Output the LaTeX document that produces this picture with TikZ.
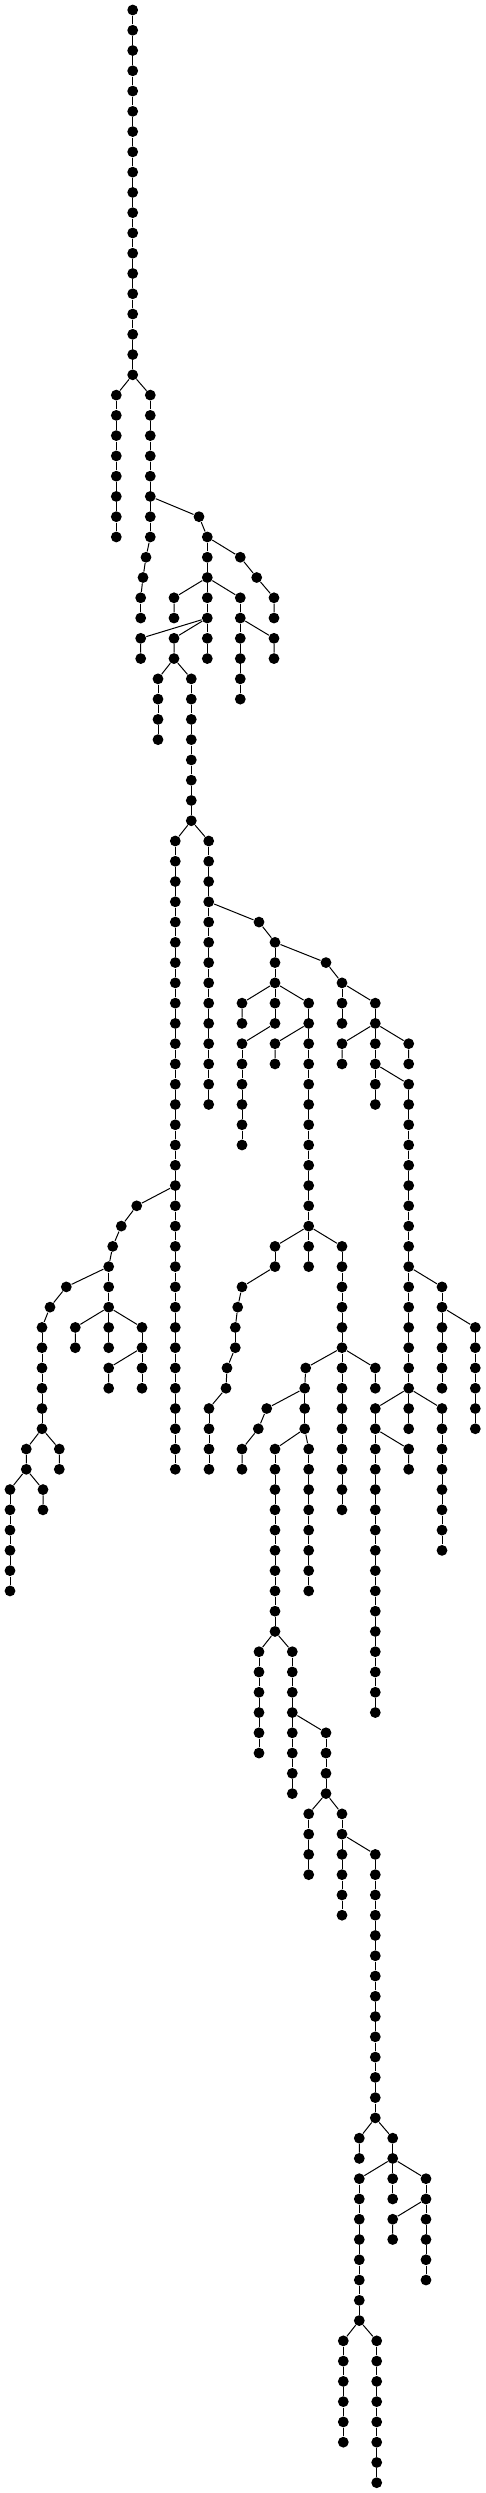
\documentclass[tikz,border=0pt]{standalone}
\usepackage{tikz}

\begin{document}
\begin{tikzpicture}[x=1pt,y=-20.268pt,line width=1pt,
        vtx/.style={circle,fill=black,inner sep=0pt,minimum size=10.8pt}]
        \useasboundingbox (0,-0.4934) rectangle (486,122.508);
        \foreach \r in {0,...,18} \node[vtx] (a\r) at (132.7,\r) {};
        \foreach \r [remember=\r as \q (initially 0)] in {1,...,18} \draw (a\q) -- (a\r);
        \foreach \r in {19,...,26} \node[vtx] (b\r) at (116.3,\r) {};
        \foreach \r [remember=\r as \q (initially 19)] in {20,...,26} \draw (b\q) -- (b\r);
        \draw (a18) -- (b19);
        \foreach \r in {19,...,26} \node[vtx] (c\r) at (150.3,\r) {};
        \node[vtx] (c27) at (146,27) {};
        \node[vtx] (c28) at (143,28) {};
        \node[vtx] (c29) at (140.7,29) {};
        \node[vtx] (c30) at (140.7,30) {};
        \foreach \r [remember=\r as \q (initially 19)] in {20,...,30} \draw (c\q) -- (c\r);
        \draw (a18) -- (c19);
        \node[vtx] (d25) at (199,25) {};
        \foreach \r in {26,...,32} \node[vtx] (d\r) at (207.3,\r) {};
        \foreach \r [remember=\r as \q (initially 25)] in {26,...,32} \draw (d\q) -- (d\r);
        \draw (c24) -- (d25);
        \node[vtx] (e27) at (240.3,27) {};
        \node[vtx] (e28) at (256.7,28) {};
        \node[vtx] (e29) at (274,29) {};
        \node[vtx] (e30) at (274,30) {};
        \draw (d26) -- (e27) -- (e28) -- (e29) -- (e30);
        \node[vtx] (f29) at (174,29) {};
        \node[vtx] (f30) at (174,30) {};
        \draw (d28) -- (f29) -- (f30);
        \foreach \r in {29,...,34} \node[vtx] (g\r) at (240.3,\r) {};
        \foreach \r [remember=\r as \q (initially 29)] in {30,...,34} \draw (g\q) -- (g\r);
        \draw (d28) -- (g29);
        \node[vtx] (j31) at (274,31) {};
        \node[vtx] (j32) at (274,32) {};
        \draw (g30) -- (j31) -- (j32);
        \node[vtx] (h31) at (140.7,31) {};
        \node[vtx] (h32) at (140.7,32) {};
        \draw (d30) -- (h31) -- (h32);
        \node[vtx] (i31) at (174,31) {};
        \node[vtx] (i32) at (174,32) {};
        \draw (d30) -- (i31) -- (i32);
        \foreach \r in {33,...,36} \node[vtx] (k\r) at (158,\r) {};
        \foreach \r [remember=\r as \q (initially 33)] in {34,...,36} \draw (k\q) -- (k\r);
        \draw (i32) -- (k33);
        \foreach \r in {33,...,40} \node[vtx] (l\r) at (191.3,\r) {};
        \foreach \r [remember=\r as \q (initially 33)] in {34,...,40} \draw (l\q) -- (l\r);
        \draw (i32) -- (l33);
        \foreach \r in {41,...,72} \node[vtx] (m\r) at (175.3,\r) {};
        \foreach \r [remember=\r as \q (initially 41)] in {42,...,72} \draw (m\q) -- (m\r);
        \draw (l40) -- (m41);
        \node[vtx] (o59) at (136.7,59) {};
        \node[vtx] (o60) at (121.3,60) {};
        \node[vtx] (o61) at (112.7,61) {};
        \foreach \r in {62,...,66} \node[vtx] (o\r) at (108.7,\r) {};
        \foreach \r [remember=\r as \q (initially 59)] in {60,...,66} \draw (o\q) -- (o\r);
        \draw (m58) -- (o59);
        \node[vtx] (p63) at (66.3,63) {};
        \node[vtx] (p64) at (50,64) {};
        \foreach \r in {65,...,70} \node[vtx] (p\r) at (42,\r) {};
        \foreach \r [remember=\r as \q (initially 63)] in {64,...,70} \draw (p\q) -- (p\r);
        \draw (o62) -- (p63);
        \node[vtx] (s71) at (26.3,71) {};
        \node[vtx] (s72) at (26.3,72) {};
        \draw (p70) -- (s71) -- (s72);
        \node[vtx] (t71) at (59.3,71) {};
        \node[vtx] (t72) at (59.3,72) {};
        \draw (p70) -- (t71) -- (t72);
        \foreach \r in {73,...,78} \node[vtx] (u\r) at (10,\r) {};
        \foreach \r [remember=\r as \q (initially 73)] in {74,...,78} \draw (u\q) -- (u\r);
        \draw (s72) -- (u73);
        \node[vtx] (v73) at (43,73) {};
        \node[vtx] (v74) at (43,74) {};
        \draw (s72) -- (v73) -- (v74);
        \node[vtx] (q65) at (75.3,65) {};
        \node[vtx] (q66) at (75.3,66) {};
        \draw (o64) -- (q65) -- (q66);
        \foreach \r in {65,...,68} \node[vtx] (ra\r) at (142,\r) {};
        \foreach \r [remember=\r as \q (initially 65)] in {66,...,68} \draw (ra\q) -- (ra\r);
        \draw (o64) -- (ra65);
        \node[vtx] (rb67) at (108.7,67) {};
        \node[vtx] (rb68) at (108.7,68) {};
        \draw (ra66) -- (rb67) -- (rb68);
        \foreach \r in {41,...,54} \node[vtx] (n\r) at (208.7,\r) {};
        \foreach \r [remember=\r as \q (initially 41)] in {42,...,54} \draw (n\q) -- (n\r);
        \draw (l40) -- (n41);
        \node[vtx] (x45) at (259,45) {};
        \foreach \r in {46,...,50} \node[vtx] (x\r) at (275,\r) {};
        \foreach \r [remember=\r as \q (initially 45)] in {46,...,50} \draw (x\q) -- (x\r);
        \draw (n44) -- (x45);
        \node[vtx] (y47) at (326,47) {};
        \foreach \r in {48,...,50} \node[vtx] (y\r) at (342,\r) {};
        \foreach \r [remember=\r as \q (initially 47)] in {48,...,50} \draw (y\q) -- (y\r);
        \draw (x46) -- (y47);
        \foreach \r in {49,...,54} \node[vtx] (ya\r) at (375.3,\r) {};
        \foreach \r [remember=\r as \q (initially 49)] in {50,...,54} \draw (ya\q) -- (ya\r);
        \draw (y48) -- (ya49);
        \node[vtx] (aa51) at (342,51) {};
        \node[vtx] (aa52) at (342,52) {};
        \draw (ya50) -- (aa51) -- (aa52);
        \node[vtx] (ab51) at (408.7,51) {};
        \node[vtx] (ab52) at (408.7,52) {};
        \draw (ya50) -- (ab51) -- (ab52);
        \foreach \r in {53,...,70} \node[vtx] (ac\r) at (408.7,\r) {};
        \foreach \r [remember=\r as \q (initially 53)] in {54,...,70} \draw (ac\q) -- (ac\r);
        \draw (ya52) -- (ac53);
        \foreach \r in {63,...,68} \node[vtx] (ad\r) at (442,\r) {};
        \foreach \r [remember=\r as \q (initially 63)] in {64,...,68} \draw (ad\q) -- (ad\r);
        \draw (ac62) -- (ad63);
        \foreach \r in {65,...,70} \node[vtx] (ag\r) at (475.3,\r) {};
        \foreach \r [remember=\r as \q (initially 65)] in {66,...,70} \draw (ag\q) -- (ag\r);
        \draw (ad64) -- (ag65);
        \foreach \r in {69,...,76} \node[vtx] (af\r) at (442,\r) {};
        \foreach \r [remember=\r as \q (initially 69)] in {70,...,76} \draw (af\q) -- (af\r);
        \draw (ac68) -- (af69);
        \foreach \r in {69,...,84} \node[vtx] (ae\r) at (375.3,\r) {};
        \foreach \r [remember=\r as \q (initially 69)] in {70,...,84} \draw (ae\q) -- (ae\r);
        \draw (ac68) -- (ae69);
        \node[vtx] (ah71) at (408.7,71) {};
        \node[vtx] (ah72) at (408.7,72) {};
        \draw (ae70) -- (ah71) -- (ah72);
        \node[vtx] (za49) at (242,49) {};
        \node[vtx] (za50) at (242,50) {};
        \draw (x48) -- (za49) -- (za50);
        \foreach \r in {49,...,62} \node[vtx] (zb\r) at (308.7,\r) {};
        \foreach \r [remember=\r as \q (initially 49)] in {50,...,62} \draw (zb\q) -- (zb\r);
        \draw (x48) -- (zb49);
        \node[vtx] (ba51) at (275,51) {};
        \node[vtx] (ba52) at (275,52) {};
        \draw (zb50) -- (ba51) -- (ba52);
        \foreach \r in {51,...,56} \node[vtx] (zc\r) at (242,\r) {};
        \foreach \r [remember=\r as \q (initially 51)] in {52,...,56} \draw (zc\q) -- (zc\r);
        \draw (x50) -- (zc51);
        \node[vtx] (bb61) at (275,61) {};
        \node[vtx] (bb62) at (275,62) {};
        \node[vtx] (bb63) at (242,63) {};
        \node[vtx] (bb64) at (237.7,64) {};
        \node[vtx] (bb65) at (235.3,65) {};
        \node[vtx] (bb66) at (235.3,66) {};
        \node[vtx] (bb67) at (227,67) {};
        \node[vtx] (bb68) at (226,68) {};
        \foreach \r in {69,...,72} \node[vtx] (bb\r) at (209,\r) {};
        \foreach \r [remember=\r as \q (initially 61)] in {62,...,72} \draw (bb\q) -- (bb\r);
        \draw (zb60) -- (bb61);
        \foreach \r in {61,...,74} \node[vtx] (bc\r) at (342,\r) {};
        \foreach \r [remember=\r as \q (initially 61)] in {62,...,74} \draw (bc\q) -- (bc\r);
        \draw (zb60) -- (bc61);
        \node[vtx] (be67) at (375.3,67) {};
        \node[vtx] (be68) at (375.3,68) {};
        \draw (bc66) -- (be67) -- (be68);
        \node[vtx] (bd67) at (305.7,67) {};
        \foreach \r in {68,...,70} \node[vtx] (bd\r) at (304.7,\r) {};
        \foreach \r [remember=\r as \q (initially 67)] in {68,...,70} \draw (bd\q) -- (bd\r);
        \draw (bc66) -- (bd67);
        \node[vtx] (bf69) at (266.7,69) {};
        \node[vtx] (bf70) at (258.3,70) {};
        \node[vtx] (bf71) at (242,71) {};
        \node[vtx] (bf72) at (242,72) {};
        \draw (bd68) -- (bf69) -- (bf70) -- (bf71) -- (bf72);
        \foreach \r in {71,...,80} \node[vtx] (bg\r) at (275,\r) {};
        \foreach \r [remember=\r as \q (initially 71)] in {72,...,80} \draw (bg\q) -- (bg\r);
        \draw (bd70) -- (bg71);
        \foreach \r in {71,...,78} \node[vtx] (bh\r) at (308.7,\r) {};
        \foreach \r [remember=\r as \q (initially 71)] in {72,...,78} \draw (bh\q) -- (bh\r);
        \draw (bd70) -- (bh71);
        \foreach \r in {81,...,86} \node[vtx] (bi\r) at (259,\r) {};
        \foreach \r [remember=\r as \q (initially 81)] in {82,...,86} \draw (bi\q) -- (bi\r);
        \draw (bg80) -- (bi81);
        \foreach \r in {81,...,88} \node[vtx] (bj\r) at (292.3,\r) {};
        \foreach \r [remember=\r as \q (initially 81)] in {82,...,88} \draw (bj\q) -- (bj\r);
        \draw (bg80) -- (bj81);
        \foreach \r in {85,...,88} \node[vtx] (bk\r) at (326,\r) {};
        \foreach \r [remember=\r as \q (initially 85)] in {86,...,88} \draw (bk\q) -- (bk\r);
        \draw (bj84) -- (bk85);
        \foreach \r in {89,...,92} \node[vtx] (bl\r) at (308.7,\r) {};
        \foreach \r [remember=\r as \q (initially 89)] in {90,...,92} \draw (bl\q) -- (bl\r);
        \draw (bk88) -- (bl89);
        \foreach \r in {89,...,94} \node[vtx] (bm\r) at (342,\r) {};
        \foreach \r [remember=\r as \q (initially 89)] in {90,...,94} \draw (bm\q) -- (bm\r);
        \draw (bk88) -- (bm89);
        \foreach \r in {91,...,104} \node[vtx] (bn\r) at (375.3,\r) {};
        \foreach \r [remember=\r as \q (initially 91)] in {92,...,104} \draw (bn\q) -- (bn\r);
        \draw (bm90) -- (bn91);
        \node[vtx] (bo105) at (359.3,105) {};
        \node[vtx] (bo106) at (359.3,106) {};
        \draw (bn104) -- (bo105) -- (bo106);
        \foreach \r in {105,...,108} \node[vtx] (bp\r) at (392.7,\r) {};
        \foreach \r [remember=\r as \q (initially 105)] in {106,...,108} \draw (bp\q) -- (bp\r);
        \draw (bn104) -- (bp105);
        \foreach \r in {107,...,114} \node[vtx] (bq\r) at (359.3,\r) {};
        \foreach \r [remember=\r as \q (initially 107)] in {108,...,114} \draw (bq\q) -- (bq\r);
        \draw (bp106) -- (bq107);
        \foreach \r in {107,...,112} \node[vtx] (br\r) at (426,\r) {};
        \foreach \r [remember=\r as \q (initially 107)] in {108,...,112} \draw (br\q) -- (br\r);
        \draw (bp106) -- (br107);
        \node[vtx] (bs109) at (392.7,109) {};
        \node[vtx] (bs110) at (392.7,110) {};
        \draw (br108) -- (bs109) -- (bs110);
        \foreach \r in {115,...,120} \node[vtx] (bt\r) at (343.3,\r) {};
        \foreach \r [remember=\r as \q (initially 115)] in {116,...,120} \draw (bt\q) -- (bt\r);
        \draw (bq114) -- (bt115);
        \foreach \r in {115,...,122} \node[vtx] (bu\r) at (376.7,\r) {};
        \foreach \r [remember=\r as \q (initially 115)] in {116,...,122} \draw (bu\q) -- (bu\r);
        \draw (bq114) -- (bu115);
    \end{tikzpicture}
\end{document}
